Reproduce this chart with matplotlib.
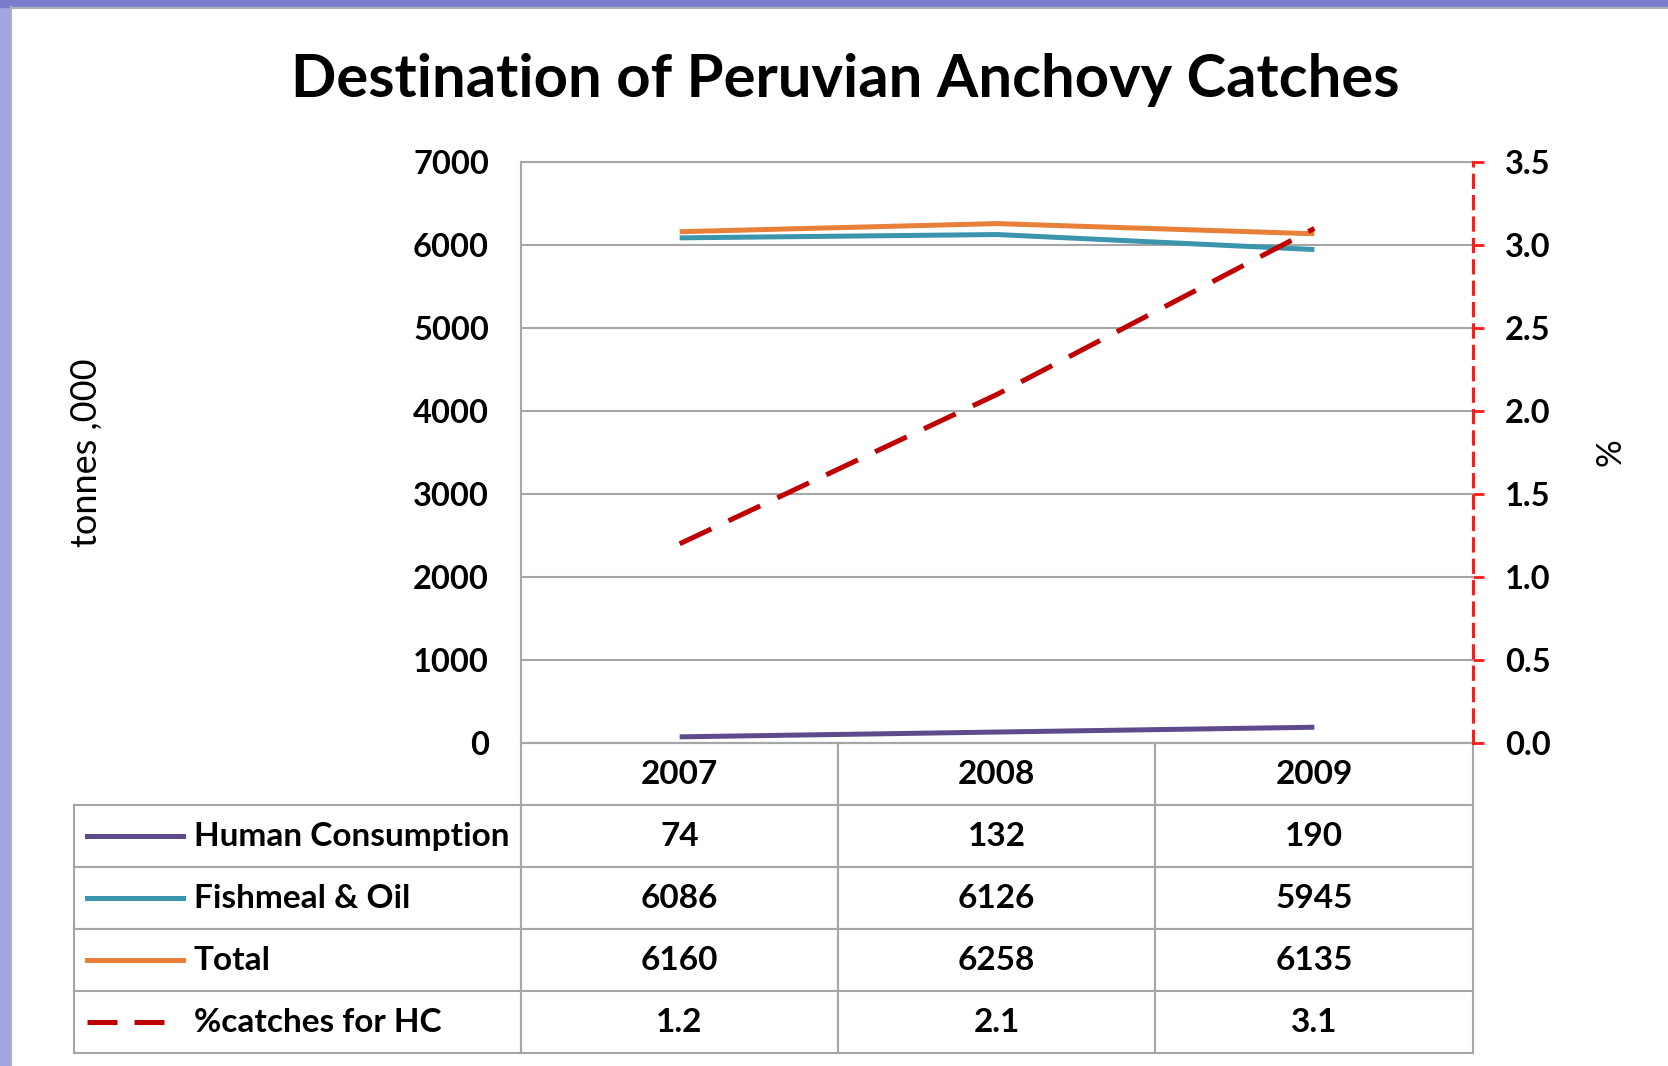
import matplotlib
matplotlib.use('Agg')
import matplotlib.pyplot as plt
from matplotlib.lines import Line2D
from matplotlib.patches import Rectangle

# data
years = ['2007', '2008', '2009']
human = [74, 132, 190]
fishmeal = [6086, 6126, 5945]
total = [6160, 6258, 6135]
pct_hc = [1.2, 2.1, 3.1]
series_names = ['Human Consumption', 'Fishmeal & Oil', 'Total', '%catches for HC']
left_ticks = [0, 1000, 2000, 3000, 4000, 5000, 6000, 7000]
right_ticks = [0.0, 0.5, 1.0, 1.5, 2.0, 2.5, 3.0, 3.5]

plt.rcParams['font.family'] = ['Lato', 'DejaVu Sans']
plt.rcParams['font.weight'] = 'bold'

W, H = 1668, 1066
fig = plt.figure(figsize=(W / 100, H / 100), dpi=100)

# slide background strips (left and top)
fig.patches.append(Rectangle((0, 0), 10 / W, 1, transform=fig.transFigure,
                             color='#a2a5e0', zorder=0))
fig.patches.append(Rectangle((0, 1 - 7 / H), 1, 7 / H, transform=fig.transFigure,
                             color='#7b7ccd', zorder=0))
fig.lines.append(Line2D([11 / W, 11 / W], [0, 1 - 7 / H], transform=fig.transFigure,
                        color='#b0b0b0', lw=1.5))
fig.lines.append(Line2D([11 / W, 1], [1 - 8 / H, 1 - 8 / H], transform=fig.transFigure,
                        color='#b0b0b0', lw=1.5))

# plot area
x0, x1, y0, y1 = 521, 1473, 162, 743
ax = fig.add_axes([x0 / W, 1 - y1 / H, (x1 - x0) / W, (y1 - y0) / H])
xs = list(range(len(years)))

c_human, c_fish, c_total, c_pct = '#5f4a8b', '#3a95ad', '#e8803a', '#c00000'
ax.plot(xs, human, color=c_human, lw=3.6, solid_capstyle='butt')
ax.plot(xs, fishmeal, color=c_fish, lw=3.6, solid_capstyle='butt')
ax.plot(xs, total, color=c_total, lw=3.6, solid_capstyle='butt')
ax.set_xlim(-0.5, 2.5)
ax.set_ylim(0, 7000)
ax.set_yticks(left_ticks)
ax.set_xticks([])
ax.yaxis.grid(True, color='#a6a6a6', lw=1.5)
ax.set_axisbelow(True)
ax.tick_params(axis='y', length=0, pad=23, labelsize=23.5)
for s in ['left', 'bottom', 'top']:
    ax.spines[s].set_color('#a6a6a6')
    ax.spines[s].set_linewidth(1.5)
ax.spines['right'].set_visible(False)
ax.set_ylabel('tonnes ,000', fontsize=26, fontweight='normal')
ax.yaxis.set_label_coords((103 - x0) / (x1 - x0), 0.5)

ax2 = ax.twinx()
ax2.plot(xs, pct_hc, color=c_pct, lw=3.6, ls=(0, (7, 3.8)))
ax2.set_ylim(0, 3.5)
ax2.set_yticks(right_ticks)
ax2.set_yticklabels([f'{v:.1f}' for v in right_ticks])
ax2.tick_params(axis='y', length=8, width=2, color='#ff1a1a', direction='out',
                pad=15, labelsize=23.5)
for s in ['left', 'bottom', 'top']:
    ax2.spines[s].set_visible(False)
ax2.spines['right'].set_color('#ff1a1a')
ax2.spines['right'].set_linewidth(2.2)
ax2.spines['right'].set_linestyle((0, (4, 3)))
ax2.set_ylabel('%', fontsize=25, fontweight='normal')
ax2.yaxis.set_label_coords((1594 - x0) / (x1 - x0), 0.5)

# data table under the plot
cell_text = [[''] + years,
             [series_names[0]] + [str(v) for v in human],
             [series_names[1]] + [str(v) for v in fishmeal],
             [series_names[2]] + [str(v) for v in total],
             [series_names[3]] + [f'{v:.1f}' for v in pct_hc]]
tl, tr, tb = 74, 1473, 1053
col_w = [x0 - tl, 317, 317, 318]
col_w = [w / sum(col_w) for w in col_w]
bbox = [(tl - x0) / (x1 - x0), (y1 - tb) / (y1 - y0),
        (tr - tl) / (x1 - x0), (tb - y1) / (y1 - y0)]
tbl = ax.table(cellText=cell_text, colWidths=col_w, bbox=bbox, cellLoc='center')
tbl.auto_set_font_size(False)
tbl.set_fontsize(24)
for (r, c), cell in tbl.get_celld().items():
    cell.set_edgecolor('#a6a6a6')
    cell.set_linewidth(1.5)
    cell.get_text().set_fontweight('bold')
    if c == 0:
        cell.get_text().set_ha('left')
        cell.PAD = (194 - tl) / (x0 - tl)
tbl[0, 0].visible_edges = ''

# legend samples inside the label column
rh = (tb - y1) / 5 / (y1 - y0)
styles = [(c_human, '-', 183), (c_fish, '-', 183), (c_total, '-', 183),
          (c_pct, (0, (6, 3.4)), 165)]
for i, (col, ls, xe) in enumerate(styles):
    yy = -(i + 1.5) * rh
    lx = [(87 - x0) / (x1 - x0), (xe - x0) / (x1 - x0)]
    ax.add_line(Line2D(lx, [yy, yy], transform=ax.transAxes, color=col, lw=3.6,
                       ls=ls, clip_on=False))

fig.text(845 / W, 1 - 80 / H, 'Destination of Peruvian Anchovy Catches',
         ha='center', va='center', fontsize=43, fontweight='bold')

fig.savefig('out.png', dpi=100)
